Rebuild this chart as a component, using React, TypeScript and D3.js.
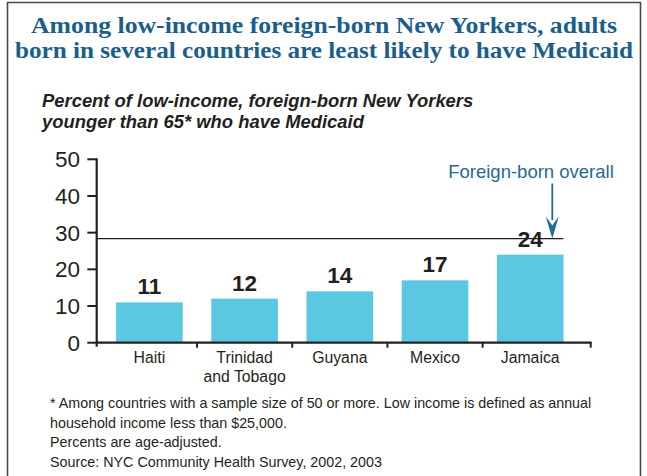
import React from "react";
import * as d3 from "d3";

const categories = ["Haiti", "Trinidad and Tobago", "Guyana", "Mexico", "Jamaica"];
const categoryLines = [["Haiti"], ["Trinidad", "and Tobago"], ["Guyana"], ["Mexico"], ["Jamaica"]];
const values = [11, 12, 14, 17, 24];
const overallValue = 28.4;
const yTicks = [0, 10, 20, 30, 40, 50];
const titleLines = [
  "Among low-income foreign-born New Yorkers, adults",
  "born in several countries are least likely to have Medicaid",
];
const subtitleLines = [
  "Percent of low-income, foreign-born New Yorkers",
  "younger than 65* who have Medicaid",
];
const footnotes = [
  "* Among countries with a sample size of 50 or more. Low income is defined as annual",
  "household income less than $25,000.",
  "Percents are age-adjusted.",
  "Source: NYC Community Health Survey, 2002, 2003",
];
const overallLabel = "Foreign-born overall";

const W = 647;
const H = 476;
const axisLeft = 96.7;
const axisRight = 590.7;
const y0 = 342.7;
const y50 = 159.3;

export default function App() {
  const y = d3.scaleLinear().domain([0, 50]).range([y0, y50]);
  const x = d3
    .scaleBand<string>()
    .domain(categories)
    .range([101.8, 577.8])
    .paddingInner(0.3)
    .paddingOuter(0.15);
  const step = x.step();
  const bw = x.bandwidth();
  const boundaries = categories.slice(0, -1).map((c) => (x(c) as number) + bw + (step - bw) / 2);
  const dark = "#231F20";
  const blue = "#1B5E8C";
  const arrowBlue = "#1F6A98";
  const sans = "'Liberation Sans', Arial, Helvetica, sans-serif";
  const yOverall = y(overallValue);
  const arrowX = 552.3;
  const titleWidths = [586, 618];

  return (
    <svg
      width={W}
      height={H}
      viewBox={`0 0 ${W} ${H}`}
      style={{ position: "absolute", left: 0, top: 0, background: "#fff" }}
    >
      <rect x={0} y={0} width={W} height={H} fill="#fff" />
      {/* frame */}
      <path d={`M7.5,${H} V2.5 H640.5 V${H}`} fill="none" stroke="#4a4a4a" strokeWidth={1.6} />

      {/* title */}
      {titleLines.map((t, i) => (
        <text
          key={i}
          x={324}
          y={33 + i * 24.5}
          textAnchor="middle"
          fontFamily="'Liberation Serif', 'Times New Roman', serif"
          fontWeight="bold"
          fontSize={24}
          textLength={titleWidths[i]}
          lengthAdjust="spacingAndGlyphs"
          fill={blue}
        >
          {t}
        </text>
      ))}

      {/* subtitle */}
      {subtitleLines.map((t, i) => (
        <text
          key={i}
          x={42}
          y={107 + i * 21}
          fontFamily={sans}
          fontWeight="bold"
          fontStyle="italic"
          fontSize={18.4}
          fill={dark}
        >
          {t}
        </text>
      ))}

      {/* bars */}
      {categories.map((c, i) => (
        <rect
          key={c}
          x={x(c)}
          y={y(values[i])}
          width={bw}
          height={y(0) - y(values[i])}
          fill="#5BC8E2"
        />
      ))}

      {/* overall line */}
      <line x1={axisLeft} x2={563.3} y1={yOverall} y2={yOverall} stroke={dark} strokeWidth={1.3} />

      {/* value labels */}
      {categories.map((c, i) => (
        <text
          key={c}
          x={(x(c) as number) + bw / 2}
          y={y(values[i]) - 8}
          textAnchor="middle"
          fontFamily={sans}
          fontWeight="bold"
          fontSize={22.5}
          fill={dark}
        >
          {values[i]}
        </text>
      ))}

      {/* y axis */}
      <line x1={axisLeft} x2={axisLeft} y1={y(50) - 1} y2={y0 + 4} stroke={dark} strokeWidth={2.2} />
      {yTicks.map((t) => (
        <g key={t}>
          <line x1={87.3} x2={axisLeft} y1={y(t)} y2={y(t)} stroke={dark} strokeWidth={2} />
          <text
            x={80}
            y={y(t)}
            dy="0.36em"
            textAnchor="end"
            fontFamily={sans}
            fontSize={22.5}
            fill={dark}
          >
            {t}
          </text>
        </g>
      ))}

      {/* x axis */}
      <line x1={axisLeft} x2={axisRight + 1} y1={y0} y2={y0} stroke={dark} strokeWidth={2.2} />
      {[...boundaries, axisRight].map((bx, i) => (
        <line key={i} x1={bx} x2={bx} y1={y0} y2={y0 + 5} stroke={dark} strokeWidth={2} />
      ))}
      {categories.map((c, i) => (
        <text
          key={c}
          x={(x(c) as number) + bw / 2}
          y={363}
          textAnchor="middle"
          fontFamily={sans}
          fontSize={15.8}
          fill={dark}
        >
          {categoryLines[i].map((l, j) => (
            <tspan key={j} x={(x(c) as number) + bw / 2} dy={j === 0 ? 0 : 19}>
              {l}
            </tspan>
          ))}
        </text>
      ))}

      {/* annotation */}
      <text
        x={531}
        y={177.5}
        textAnchor="middle"
        fontFamily={sans}
        fontSize={18.5}
        fill={arrowBlue}
      >
        {overallLabel}
      </text>
      <line x1={arrowX} x2={arrowX} y1={183.5} y2={220} stroke={arrowBlue} strokeWidth={1.8} />
      <path
        d={`M${arrowX - 6.5},${yOverall - 22} L${arrowX},${yOverall - 13} L${arrowX + 6.5},${yOverall - 22} L${arrowX},${yOverall} Z`}
        fill={arrowBlue}
      />

      {/* footnotes */}
      {footnotes.map((f, i) => (
        <text
          key={i}
          x={50}
          y={408 + i * 19.5}
          fontFamily={sans}
          fontSize={14.3}
          fill={dark}
        >
          {f}
        </text>
      ))}
    </svg>
  );
}
